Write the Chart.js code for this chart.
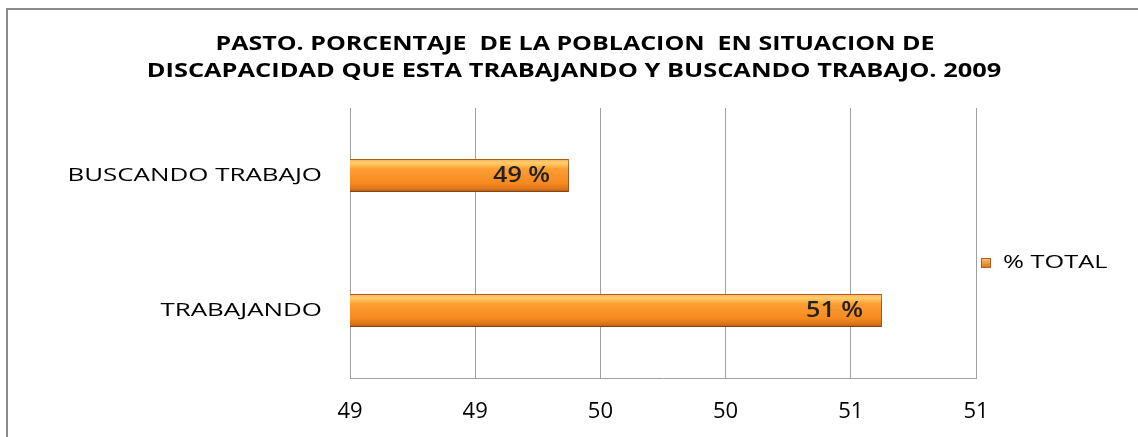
<!DOCTYPE html>
<html>
<head>
<meta charset="utf-8">
<script src="https://cdn.jsdelivr.net/npm/chart.js@4.4.1/dist/chart.umd.min.js"></script>
<style>
  html, body { margin: 0; padding: 0; background: #fff; }
  #wrap { width: 1138px; height: 437px; position: relative; }
</style>
</head>
<body>
<div id="wrap"><canvas id="grafico" width="1138" height="437"></canvas></div>
<script>
// Datos
const categorias = ['BUSCANDO TRABAJO', 'TRABAJANDO']
const valores = [49.7, 50.7]
const etiquetas = ['49 %', '51 %']
const serie = '% TOTAL'
const titulo = ['PASTO. PORCENTAJE  DE LA POBLACION  EN SITUACION DE', 'DISCAPACIDAD QUE ESTA TRABAJANDO Y BUSCANDO TRABAJO. 2009']
const ejeMin = 49.0
const ejeMax = 51.0
const ejePaso = 0.4

const fuente = "'Open Sans', 'Liberation Sans', sans-serif"
const grosorBarra = 0.245

// texto estirado a lo ancho (la imagen original esta estirada)
function textoAncho(ctx, txt, x, y, estira, align) {
  ctx.save()
  ctx.textAlign = align
  ctx.textBaseline = 'middle'
  ctx.translate(x, y)
  ctx.scale(estira, 1)
  ctx.fillText(txt, 0, 0)
  ctx.restore()
}

// Marco gris exterior
const marco = {
  id: 'marco',
  beforeDraw(chart) {
    const ctx = chart.ctx
    ctx.save()
    ctx.fillStyle = '#ffffff'
    ctx.fillRect(0, 0, chart.width, chart.height)
    ctx.strokeStyle = '#8a8a8a'
    ctx.lineWidth = 2
    ctx.beginPath()
    ctx.moveTo(7, chart.height + 2)
    ctx.lineTo(7, 9)
    ctx.lineTo(chart.width + 2, 9)
    ctx.stroke()
    ctx.restore()
  }
}

// Sombra bajo las barras
const sombra = {
  id: 'sombra',
  beforeDatasetsDraw(chart) {
    const ctx = chart.ctx
    ctx.save()
    ctx.shadowColor = 'rgba(0, 0, 0, 0.35)'
    ctx.shadowBlur = 5
    ctx.shadowOffsetX = 2
    ctx.shadowOffsetY = 3
  },
  afterDatasetsDraw(chart) {
    chart.ctx.restore()
  }
}

// Titulo, categorias, leyenda y etiquetas de datos
const textos = {
  id: 'textos',
  afterDraw(chart) {
    const ctx = chart.ctx
    const y = chart.scales.y
    const area = chart.chartArea
    ctx.save()
    ctx.fillStyle = '#000'

    ctx.font = 'bold 20px ' + fuente
    textoAncho(ctx, titulo[0], 575, 44, 1.25, 'center')
    textoAncho(ctx, titulo[1], 574, 71, 1.27, 'center')

    ctx.font = '18.5px ' + fuente
    categorias.forEach((c, i) => {
      textoAncho(ctx, c, area.left - 28, y.getPixelForValue(i), 1.4, 'right')
    })

    // leyenda
    const ly = (area.top + area.bottom) / 2 + 20
    const g = ctx.createLinearGradient(0, ly - 5, 0, ly + 5)
    g.addColorStop(0, '#ffc46a')
    g.addColorStop(1, '#d8701a')
    ctx.fillStyle = g
    ctx.fillRect(981, ly - 5, 10, 10)
    ctx.strokeStyle = '#b0601c'
    ctx.lineWidth = 1
    ctx.strokeRect(981.5, ly - 4.5, 9, 9)
    ctx.fillStyle = '#000'
    textoAncho(ctx, serie, 1003, ly, 1.37, 'left')

    // etiquetas de datos
    ctx.font = '600 21px ' + fuente
    ctx.fillStyle = '#222'
    chart.getDatasetMeta(0).data.forEach((bar, i) => {
      textoAncho(ctx, etiquetas[i], bar.x - 19, bar.y + 1, 1.2, 'right')
    })
    ctx.restore()
  }
}

// Degradado naranja de cada barra
function colorBarra(context) {
  const chart = context.chart
  const y = chart.scales.y
  const plano = '#f7901e'
  if (!y || context.dataIndex === undefined) return plano
  const banda = (y.bottom - y.top) / categorias.length
  const grueso = banda * grosorBarra
  const centro = y.getPixelForValue(context.dataIndex)
  const top = centro - grueso / 2
  if (!isFinite(top) || !isFinite(grueso) || grueso <= 0) return plano
  const g = chart.ctx.createLinearGradient(0, top, 0, top + grueso)
  g.addColorStop(0, '#f6ac5c')
  g.addColorStop(0.12, '#ffcf6a')
  g.addColorStop(0.3, '#fd9e34')
  g.addColorStop(0.75, '#f6891f')
  g.addColorStop(0.92, '#d97118')
  g.addColorStop(1, '#a5561a')
  return g
}

const ctx = document.getElementById('grafico').getContext('2d')
new Chart(ctx, {
  type: 'bar',
  data: {
    labels: categorias,
    datasets: [{
      label: serie,
      data: valores,
      backgroundColor: colorBarra,
      borderColor: '#b0601c',
      borderWidth: 1,
      borderSkipped: false,
      categoryPercentage: 1,
      barPercentage: grosorBarra
    }]
  },
  options: {
    indexAxis: 'y',
    responsive: false,
    animation: false,
    layout: { padding: { top: 108, right: 162, left: 10, bottom: 14 } },
    plugins: {
      title: { display: false },
      legend: { display: false },
      tooltip: { enabled: false }
    },
    scales: {
      x: {
        min: ejeMin,
        max: ejeMax,
        grid: { color: '#a0a0a0', lineWidth: 1, drawTicks: false },
        border: { color: '#a0a0a0' },
        afterFit(scale) { scale.height = 45 },
        ticks: {
          stepSize: ejePaso,
          padding: 21,
          color: '#000',
          font: { family: fuente, size: 22 },
          callback: v => Math.round(v)
        }
      },
      y: {
        grid: { display: false },
        border: { color: '#a0a0a0' },
        afterFit(scale) { scale.width = 340 },
        ticks: { display: false }
      }
    }
  },
  plugins: [marco, sombra, textos]
})
</script>
</body>
</html>
